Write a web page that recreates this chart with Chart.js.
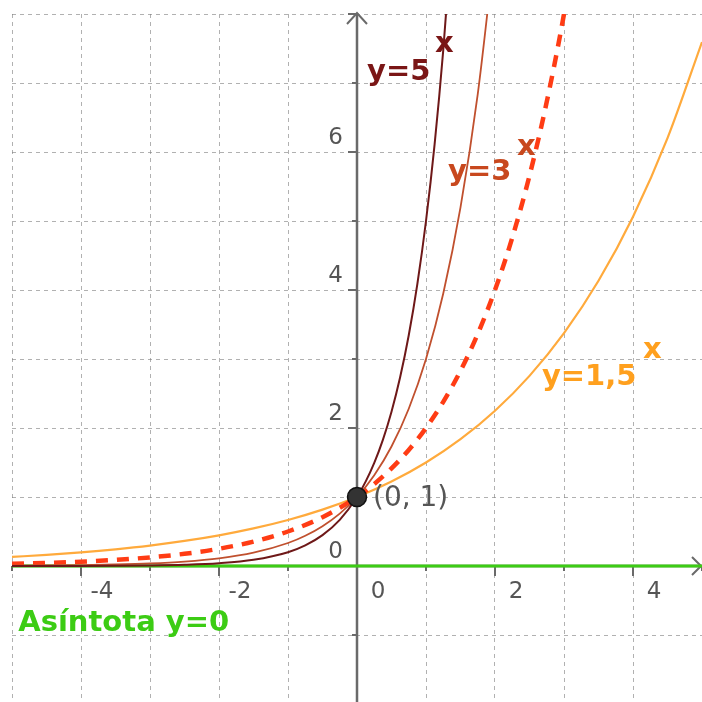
<!DOCTYPE html>
<html>
<head>
<meta charset="utf-8">
<script src="https://cdn.jsdelivr.net/npm/chart.js@4"></script>
<style>
  html, body { margin: 0; padding: 0; background: #fff; }
  #wrap { width: 702px; height: 702px; position: relative; }
</style>
</head>
<body>
<div id="wrap"><canvas id="c" width="702" height="702"></canvas></div>
<script>
// ---- grid / tick values ----
const xGrid = [-5, -4, -3, -2, -1, 0, 1, 2, 3, 4, 5];
const yGrid = [-1, 0, 1, 2, 3, 4, 5, 6, 7, 8];
const xTickLabels = [-4, -2, 0, 2, 4];
const yTickLabels = [0, 2, 4, 6];

// ---- y = 1,5^x ----
const x15 = [-5, -4.5, -4, -3.5, -3, -2.5, -2, -1.5, -1, -0.5, 0, 0.5, 1, 1.5, 2, 2.5, 3, 3.5, 4, 4.5, 5];
const y15 = [0.1317, 0.1613, 0.1975, 0.2420, 0.2963, 0.3629, 0.4444, 0.5443, 0.6667, 0.8165, 1, 1.2247, 1.5, 1.8371, 2.25, 2.7557, 3.375, 4.1335, 5.0625, 6.2003, 7.5938];

// ---- y = 2^x (dashed) ----
const x2 = [-5, -4.5, -4, -3.5, -3, -2.5, -2, -1.5, -1, -0.5, 0, 0.25, 0.5, 0.75, 1, 1.25, 1.5, 1.75, 2, 2.25, 2.5, 2.75, 3, 3.25];
const y2 = [0.03125, 0.0442, 0.0625, 0.0884, 0.125, 0.1768, 0.25, 0.3536, 0.5, 0.7071, 1, 1.1892, 1.4142, 1.6818, 2, 2.3784, 2.8284, 3.3636, 4, 4.7568, 5.6569, 6.7272, 8, 9.5137];

// ---- y = 3^x ----
const x3 = [-5, -4.5, -4, -3.5, -3, -2.5, -2, -1.5, -1, -0.75, -0.5, -0.25, 0, 0.25, 0.5, 0.75, 1, 1.25, 1.5, 1.75, 2];
const y3 = [0.0041, 0.0071, 0.0123, 0.0214, 0.0370, 0.0642, 0.1111, 0.1925, 0.3333, 0.4387, 0.5774, 0.7598, 1, 1.3161, 1.7321, 2.2795, 3, 3.9482, 5.1962, 6.8385, 9];

// ---- y = 5^x ----
const x5 = [-5, -4.5, -4, -3.5, -3, -2.5, -2, -1.5, -1, -0.75, -0.5, -0.25, 0, 0.125, 0.25, 0.375, 0.5, 0.625, 0.75, 0.875, 1, 1.125, 1.25, 1.375];
const y5 = [0.0003, 0.0007, 0.0016, 0.0036, 0.008, 0.0179, 0.04, 0.0894, 0.2, 0.2991, 0.4472, 0.6687, 1, 1.2228, 1.4953, 1.8286, 2.2361, 2.7345, 3.3437, 4.0889, 5, 6.1143, 7.4767, 9.1429];

// ---- asymptote y = 0 ----
const asymX = [-5, 5];
const asymY = [0, 0];

// ---- marked point ----
const ptX = [0];
const ptY = [1];

const pts = (xs, ys) => xs.map((v, i) => ({ x: v, y: ys[i] }));

const FONT = '"DejaVu Sans", "Liberation Sans", Arial, sans-serif';

const axesPlugin = {
  id: 'axes',
  beforeDatasetsDraw(chart) {
    const { ctx, chartArea: a } = chart;
    const sx = chart.scales.x, sy = chart.scales.y;
    const x0 = sx.getPixelForValue(0), y0 = sy.getPixelForValue(0);
    ctx.save();
    ctx.strokeStyle = '#6a6a6a';
    ctx.lineCap = 'butt';
    ctx.lineWidth = 2.5;
    ctx.beginPath();
    ctx.moveTo(x0, a.bottom); ctx.lineTo(x0, a.top - 1);
    ctx.moveTo(a.left, y0); ctx.lineTo(a.right, y0);
    ctx.stroke();
    // arrows
    ctx.lineWidth = 2;
    ctx.beginPath();
    ctx.moveTo(x0 - 10, a.top + 10); ctx.lineTo(x0, a.top - 1); ctx.lineTo(x0 + 10, a.top + 10);
    ctx.moveTo(a.right - 10, y0 - 9); ctx.lineTo(a.right - 1, y0); ctx.lineTo(a.right - 10, y0 + 9);
    ctx.stroke();
    // ticks
    ctx.lineWidth = 2;
    ctx.beginPath();
    xGrid.forEach(v => {
      if (v === 0) return;
      const p = sx.getPixelForValue(v);
      const len = v % 2 === 0 ? 10 : 5;
      ctx.moveTo(p, y0); ctx.lineTo(p, y0 + len);
    });
    yGrid.forEach(v => {
      if (v === 0) return;
      const p = sy.getPixelForValue(v);
      const len = v % 2 === 0 ? 9 : 5;
      ctx.moveTo(x0 - len, p); ctx.lineTo(x0, p);
    });
    ctx.stroke();
    // tick labels
    ctx.fillStyle = '#555';
    ctx.font = '23px ' + FONT;
    ctx.textBaseline = 'middle';
    ctx.textAlign = 'center';
    xTickLabels.forEach(v => {
      ctx.fillText(String(v), sx.getPixelForValue(v) + 21, y0 + 26);
    });
    ctx.textAlign = 'right';
    yTickLabels.forEach(v => {
      ctx.fillText(String(v), x0 - 14, sy.getPixelForValue(v) - 14);
    });
    ctx.restore();
  }
};

// text annotations (data units for anchor of main text baseline and superscript baseline)
const annotations = [
  { t: 'y=5', s: 'x', c: '#7a1616', x: 0.145, y: 7.04, sxv: 1.13, syv: 7.45 },
  { t: 'y=3', s: 'x', c: '#c8481e', x: 1.32, y: 5.59, sxv: 2.32, syv: 5.96 },
  { t: 'y=1,5', s: 'x', c: '#ffa01e', x: 2.68, y: 2.62, sxv: 4.145, syv: 3.01 },
  { t: 'Asíntota y=0', s: '', c: '#3ccc14', x: -4.91, y: -0.94 }
];

const labelsPlugin = {
  id: 'labels',
  afterDatasetsDraw(chart) {
    const { ctx } = chart;
    const sx = chart.scales.x, sy = chart.scales.y;
    ctx.save();
    ctx.textBaseline = 'alphabetic';
    ctx.textAlign = 'left';
    ctx.font = 'bold 29px ' + FONT;
    annotations.forEach(a => {
      ctx.fillStyle = a.c;
      ctx.fillText(a.t, sx.getPixelForValue(a.x), sy.getPixelForValue(a.y));
      if (a.s) ctx.fillText(a.s, sx.getPixelForValue(a.sxv), sy.getPixelForValue(a.syv));
    });
    // point label
    ctx.font = '28px ' + FONT;
    ctx.fillStyle = '#555';
    ctx.textBaseline = 'middle';
    ctx.fillText('(0, 1)', sx.getPixelForValue(ptX[0]) + 16, sy.getPixelForValue(ptY[0]) + 2);
    ctx.restore();
  }
};

const lineDs = (label, data, color, width, dash, order) => ({
  label, data, borderColor: color, backgroundColor: color, borderWidth: width,
  borderDash: dash, pointRadius: 0, fill: false, cubicInterpolationMode: 'monotone', order
});

new Chart(document.getElementById('c'), {
  type: 'line',
  data: {
    datasets: [
      { label: '(0, 1)', data: pts(ptX, ptY), showLine: false, pointRadius: 9.5, pointBackgroundColor: '#333', pointBorderColor: '#111', pointBorderWidth: 1.5, order: 0 },
      lineDs('5^x', pts(x5, y5), '#6e1818', 2, [], 1),
      lineDs('3^x', pts(x3, y3), '#c0502e', 1.8, [], 2),
      lineDs('2^x', pts(x2, y2), '#ff3c14', 4.5, [12, 9], 3),
      lineDs('1,5^x', pts(x15, y15), '#ffaa3c', 2.2, [], 4),
      lineDs('Asíntota', pts(asymX, asymY), '#3ccc14', 3, [], 5)
    ]
  },
  options: {
    responsive: false,
    animation: false,
    devicePixelRatio: 1,
    layout: { autoPadding: false, padding: { left: 12, top: 14, right: 0, bottom: 0 } },
    plugins: { legend: { display: false }, tooltip: { enabled: false } },
    scales: {
      x: {
        type: 'linear', min: -5, max: 5,
        afterBuildTicks: s => { s.ticks = xGrid.map(v => ({ value: v })); },
        afterFit: s => { s.height = 0; },
        ticks: { display: false },
        grid: { color: 'rgba(125,125,125,0.6)', lineWidth: 1, drawTicks: false },
        border: { display: false, dash: [4, 4] }
      },
      y: {
        type: 'linear', min: -1.971, max: 8,
        afterBuildTicks: s => { s.ticks = yGrid.map(v => ({ value: v })); },
        afterFit: s => { s.width = 0; },
        ticks: { display: false },
        grid: { color: 'rgba(125,125,125,0.6)', lineWidth: 1, drawTicks: false },
        border: { display: false, dash: [4, 4] }
      }
    }
  },
  plugins: [axesPlugin, labelsPlugin]
});
</script>
</body>
</html>
